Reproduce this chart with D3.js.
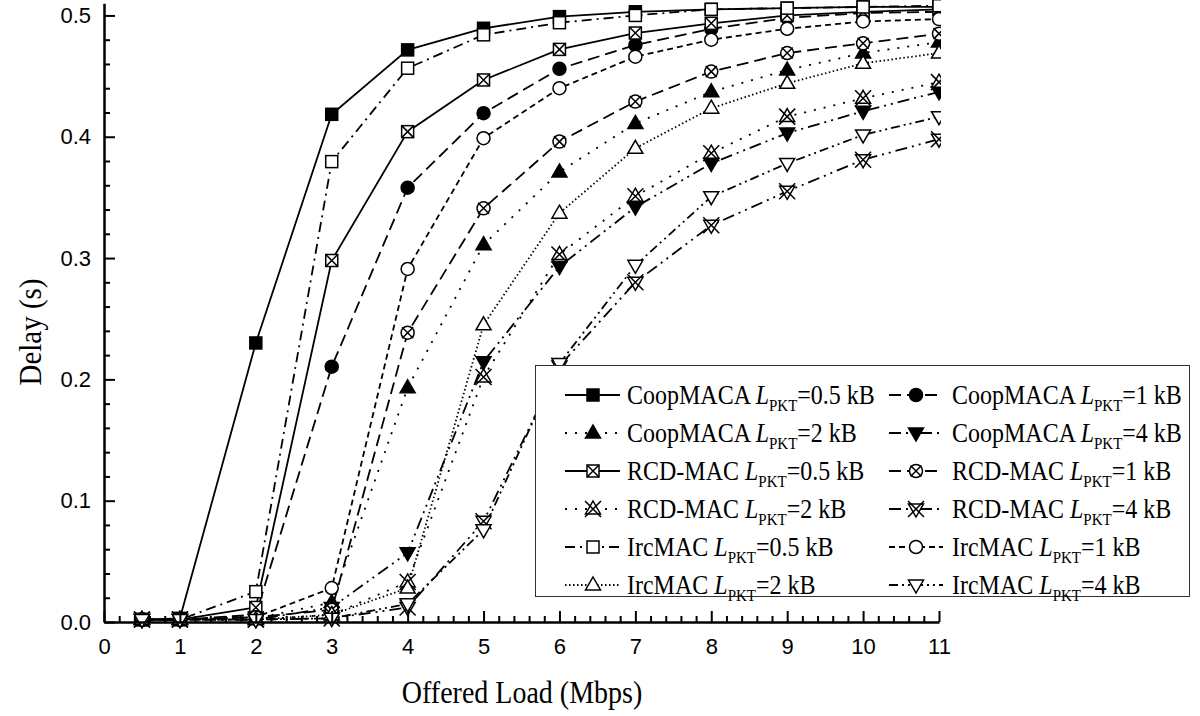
<!DOCTYPE html>
<html><head><meta charset="utf-8">
<script src="https://cdn.jsdelivr.net/npm/d3@7"></script>
<style>body{margin:0;background:#fff}svg{display:block}</style>
</head><body>
<svg id="chart" width="1200" height="716"></svg>
<script>
// ---- data ----
const offeredLoad = [0.5, 1, 2, 3, 4, 5, 6, 7, 8, 9, 10, 11];
const coopmaca05 = [0.002, 0.003, 0.230, 0.4185, 0.4716, 0.4894, 0.499, 0.503, 0.505, 0.506, 0.507, 0.507];
const coopmaca1  = [0.002, 0.002, 0.006, 0.2105, 0.358, 0.4194, 0.456, 0.4757, 0.489, 0.498, 0.502, 0.503];
const coopmaca2  = [0.002, 0.002, 0.003, 0.016, 0.193, 0.311, 0.371, 0.411, 0.437, 0.455, 0.469, 0.478];
const coopmaca4  = [0.002, 0.002, 0.002, 0.012, 0.057, 0.2146, 0.293, 0.342, 0.378, 0.403, 0.421, 0.437];
const rcdmac05   = [0.002, 0.002, 0.012, 0.298, 0.4042, 0.4468, 0.472, 0.4855, 0.4935, 0.500, 0.503, 0.505];
const rcdmac1    = [0.002, 0.002, 0.004, 0.010, 0.2385, 0.341, 0.396, 0.429, 0.4537, 0.469, 0.477, 0.485];
const rcdmac2    = [0.002, 0.002, 0.002, 0.006, 0.033, 0.202, 0.303, 0.351, 0.3864, 0.4166, 0.4317, 0.445];
const rcdmac4    = [0.002, 0.002, 0.002, 0.003, 0.012, 0.083, 0.211, 0.280, 0.327, 0.355, 0.381, 0.398];
const ircmac05   = [0.002, 0.002, 0.025, 0.3795, 0.4565, 0.484, 0.494, 0.500, 0.505, 0.506, 0.507, 0.508];
const ircmac1    = [0.002, 0.002, 0.004, 0.028, 0.291, 0.3988, 0.440, 0.466, 0.480, 0.489, 0.495, 0.497];
const ircmac2    = [0.002, 0.002, 0.002, 0.006, 0.028, 0.245, 0.337, 0.3905, 0.4235, 0.444, 0.4605, 0.469];
const ircmac4    = [0.002, 0.002, 0.002, 0.003, 0.015, 0.076, 0.213, 0.294, 0.3506, 0.378, 0.4015, 0.4165];

const protocolNames = ["CoopMACA", "CoopMACA", "CoopMACA", "CoopMACA", "RCD-MAC", "RCD-MAC", "RCD-MAC", "RCD-MAC", "IrcMAC", "IrcMAC", "IrcMAC", "IrcMAC"];
const packetSizes = ["0.5", "1", "2", "4", "0.5", "1", "2", "4", "0.5", "1", "2", "4"];
const xTickValues = [0, 1, 2, 3, 4, 5, 6, 7, 8, 9, 10, 11];
const yTickValues = [0.0, 0.1, 0.2, 0.3, 0.4, 0.5];
const xAxisTitle = "Offered Load (Mbps)";
const yAxisTitle = "Delay (s)";

// ---- styles (not data) ----
const allValues = [coopmaca05, coopmaca1, coopmaca2, coopmaca4, rcdmac05, rcdmac1, rcdmac2, rcdmac4, ircmac05, ircmac1, ircmac2, ircmac4];
const markerKinds = ["sqF", "cirF", "triF", "invF", "sqX", "cirX", "triX", "invX", "sqO", "cirO", "triO", "invO"];
const dashes = ["", "12,6", "2,8", "12,5,2,5,2,5", "", "12,6", "2,8", "12,5,2,5,2,5", "10,5,2,5", "6,4", "1.5,2.5", "9,4,2,4,2,4"];

const series = allValues.map((v, i) => ({
  name: protocolNames[i], size: packetSizes[i], kind: markerKinds[i], dash: dashes[i],
  points: offeredLoad.map((x, j) => ({x, y: v[j]}))
}));

const svg = d3.select("#chart");
const x = d3.scaleLinear().domain([0, 11]).range([104, 939]);
const y = d3.scaleLinear().domain([0, 0.51]).range([622, 3.3]);

const serif = "'Liberation Serif','Times New Roman',serif";
const sans = "'Liberation Sans',Arial,sans-serif";

// clip
svg.append("defs").append("clipPath").attr("id", "plotclip")
  .append("rect").attr("x", 0).attr("y", 0).attr("width", 941).attr("height", 716);

const plot = svg.append("g").attr("clip-path", "url(#plotclip)");
const line = d3.line().x(d => x(d.x)).y(d => y(d.y));

series.forEach(s => {
  plot.append("path").datum(s.points)
    .attr("d", line).attr("fill", "none").attr("stroke", "#000")
    .attr("stroke-width", 1.8).attr("stroke-dasharray", s.dash || null);
});

function drawMarker(g, kind) {
  const filled = kind.endsWith("F");
  const fill = filled ? "#000" : "#fff";
  const sw = 1.5;
  const base = kind.slice(0, 3);
  if (base.startsWith("sq")) {
    g.append("rect").attr("x", -6).attr("y", -6).attr("width", 12).attr("height", 12)
      .attr("fill", fill).attr("stroke", "#000").attr("stroke-width", sw);
  } else if (base.startsWith("cir")) {
    g.append("circle").attr("r", 6.5).attr("fill", fill).attr("stroke", "#000").attr("stroke-width", sw);
  } else if (base.startsWith("tri")) {
    g.append("path").attr("d", "M0,-8L7.5,5L-7.5,5Z").attr("fill", fill).attr("stroke", "#000").attr("stroke-width", sw);
  } else if (base.startsWith("inv")) {
    g.append("path").attr("d", "M0,8L7.5,-5L-7.5,-5Z").attr("fill", fill).attr("stroke", "#000").attr("stroke-width", sw);
  }
  if (kind.endsWith("X")) {
    const s = base.startsWith("sq") ? 6 : base.startsWith("cir") ? 5.5 : 8;
    g.append("path").attr("d", `M${-s},${-s}L${s},${s}M${-s},${s}L${s},${-s}`)
      .attr("fill", "none").attr("stroke", "#000").attr("stroke-width", sw);
  }
}

series.forEach(s => {
  s.points.forEach(p => {
    const g = plot.append("g").attr("transform", `translate(${x(p.x)},${y(p.y)})`);
    drawMarker(g, s.kind);
  });
});

// axes
const minorY = d3.range(0, 0.5001, 0.02).filter(v => Math.abs(v * 10 - Math.round(v * 10)) > 1e-6);
const minorX = d3.range(0, 11.0001, 0.2).filter(v => Math.abs(v - Math.round(v)) > 1e-6);

const yAxisG = svg.append("g").attr("transform", "translate(104,0)");
yAxisG.call(d3.axisLeft(y).tickValues(yTickValues).tickFormat(d3.format(".1f")).tickSizeInner(-11).tickSizeOuter(0).tickPadding(13));
yAxisG.append("g").call(d3.axisLeft(y).tickValues(minorY).tickFormat("").tickSizeInner(-6).tickSizeOuter(0))
  .select(".domain").remove();
yAxisG.selectAll(".domain").attr("stroke-width", 2.5);
yAxisG.selectAll(".tick line").attr("stroke-width", 2);
yAxisG.selectAll(".tick text").attr("font-family", sans).attr("font-size", 22).attr("fill", "#000");

const xAxisG = svg.append("g").attr("transform", "translate(0,622)");
xAxisG.call(d3.axisBottom(x).tickValues(xTickValues).tickFormat(d3.format("d")).tickSizeInner(-11).tickSizeOuter(0).tickPadding(16));
xAxisG.append("g").call(d3.axisBottom(x).tickValues(minorX).tickFormat("").tickSizeInner(-6).tickSizeOuter(0))
  .select(".domain").remove();
xAxisG.selectAll(".domain").attr("stroke-width", 2.5);
xAxisG.selectAll(".tick line").attr("stroke-width", 2);
xAxisG.selectAll(".tick text").attr("font-family", sans).attr("font-size", 22).attr("fill", "#000");

// titles
svg.append("text").attr("transform", "translate(522,703) scale(1,1.1)").attr("text-anchor", "middle")
  .attr("font-family", serif).attr("font-size", 28).text(xAxisTitle);
svg.append("text").attr("transform", "translate(41,332) rotate(-90) scale(1,1.1)").attr("text-anchor", "middle")
  .attr("font-family", serif).attr("font-size", 29).text(yAxisTitle);

// legend
const lg = svg.append("g");
lg.append("rect").attr("x", 535.5).attr("y", 365.5).attr("width", 654).attr("height", 231)
  .attr("fill", "#fff").attr("stroke", "#333").attr("stroke-width", 1);
const rowY = d3.range(6).map(i => 395 + i * 38);
const cols = [{x0: 565, x1: 620, mx: 593, tx: 627}, {x0: 889, x1: 943, mx: 916, tx: 952}];
series.forEach((s, i) => {
  const c = cols[i % 2], ry = rowY[Math.floor(i / 2)];
  lg.append("line").attr("x1", c.x0).attr("x2", c.x1).attr("y1", ry).attr("y2", ry)
    .attr("stroke", "#000").attr("stroke-width", 1.8).attr("stroke-dasharray", s.dash || null);
  drawMarker(lg.append("g").attr("transform", `translate(${c.mx},${ry})`), s.kind);
  const t = lg.append("text").attr("transform", `translate(${c.tx},${ry + 9}) scale(1,1.12)`)
    .attr("font-family", serif).attr("font-size", 24).attr("fill", "#000");
  t.append("tspan").text(s.name + " ");
  t.append("tspan").attr("font-style", "italic").text("L");
  t.append("tspan").attr("font-size", 15).attr("dy", 6.5).text("PKT");
  t.append("tspan").attr("dy", -6.5).text("=" + s.size + " kB");
});
</script>
</body></html>
